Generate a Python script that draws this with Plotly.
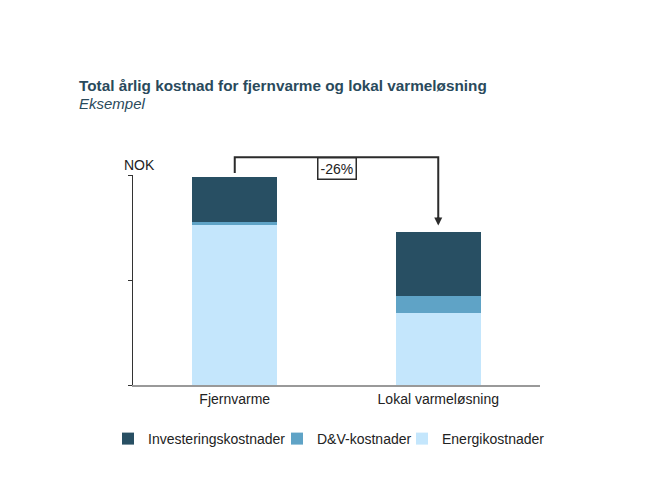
import plotly.graph_objects as go

categories = ["Fjernvarme", "Lokal varmeløsning"]
energi = [1.52, 0.69]
dv = [0.03, 0.16]
invest = [0.43, 0.61]
series_names = ["Energikostnader", "D&V-kostnader", "Investeringskostnader"]
colors = ["#c4e6fc", "#5fa3c6", "#284f63"]

FONT = "Arial, Liberation Sans, sans-serif"
YMAX = 2.0
XMIN, XMAX = -0.5, 1.5
PL, PW, PB, PH = 133, 407, 385, 210  # plot-area reference (screen px)

def lx(p):
    return (p - PL) / PW

def ly(p):
    return (PB - p) / PH

legend_ids = ["legend3", "legend2", "legend"]
legend_px = [402, 277, 108]

fig = go.Figure()
for name, vals, col, lid in zip(series_names, [energi, dv, invest], colors, legend_ids):
    fig.add_trace(go.Bar(x=categories, y=vals, name=name, marker=dict(color=col, line=dict(width=0)),
                         width=0.42, legend=lid))

totals = [e + d + i for e, d, i in zip(energi, dv, invest)]
change = round((totals[1] / totals[0] - 1) * 100)

def px(idx):
    return (idx - XMIN) / (XMAX - XMIN)

def py(v):
    return v / YMAX

top = 2.17
y_left = totals[0] + 0.04
y_right = totals[1] + 0.06
line_col = "#2b2b2b"
fig.add_shape(type="path", xref="paper", yref="paper",
              path=f"M {px(0)},{py(y_left)} L {px(0)},{py(top)} L {px(1)},{py(top)} L {px(1)},{py(y_right)+0.03}",
              line=dict(color=line_col, width=2))
fig.add_annotation(xref="paper", yref="paper", x=px(1), y=py(y_right), ax=0, ay=-10,
                   showarrow=True, arrowhead=2, arrowsize=0.8, arrowwidth=2, arrowcolor=line_col, text="")
fig.add_annotation(xref="paper", yref="paper", x=px(0.5), y=py(top), text=f"{change}%",
                   showarrow=False, font=dict(family=FONT, size=14, color="#222"),
                   bgcolor="white", bordercolor=line_col, borderwidth=1.5, borderpad=2)

fig.add_annotation(xref="paper", yref="paper", x=lx(77), y=ly(85),
                   xanchor="left", yanchor="middle", showarrow=False,
                   text="<b>Total årlig kostnad for fjernvarme og lokal varmeløsning</b>",
                   font=dict(family=FONT, size=15.3, color="#2a4a5c"))
fig.add_annotation(xref="paper", yref="paper", x=lx(77), y=ly(103),
                   xanchor="left", yanchor="middle", showarrow=False,
                   text="<i>Eksempel</i>", font=dict(family=FONT, size=15, color="#2a4a5c"))
fig.add_annotation(xref="paper", yref="paper", x=lx(122), y=ly(165),
                   xanchor="left", yanchor="middle", showarrow=False,
                   text="NOK", font=dict(family=FONT, size=14, color="#222"))

legend_common = dict(orientation="h", xanchor="left", yanchor="top", y=ly(423),
                     font=dict(family=FONT, size=14, color="#222"), itemwidth=30,
                     bgcolor="rgba(0,0,0,0)")

fig.update_layout(
    width=650, height=500,
    margin=dict(l=125, r=118, t=167, b=123),
    paper_bgcolor="white", plot_bgcolor="white",
    barmode="stack", bargap=0,
    font=dict(family=FONT, size=14, color="#222"),
    showlegend=True,
    legend=dict(x=lx(legend_px[2]), **legend_common),
    legend2=dict(x=lx(legend_px[1]), **legend_common),
    legend3=dict(x=lx(legend_px[0]), **legend_common),
    xaxis=dict(range=[XMIN, XMAX], showline=True, linecolor="#999", linewidth=1.5, ticks="",
               showgrid=False, zeroline=False, tickfont=dict(family=FONT, size=14, color="#222")),
    yaxis=dict(range=[0, YMAX], showline=True, linecolor="#333", linewidth=1.2, ticks="outside",
               ticklen=4, tickcolor="#333", tickvals=[0, 1, 2], showticklabels=False,
               showgrid=False, zeroline=False),
)

fig.write_html("out.html")
